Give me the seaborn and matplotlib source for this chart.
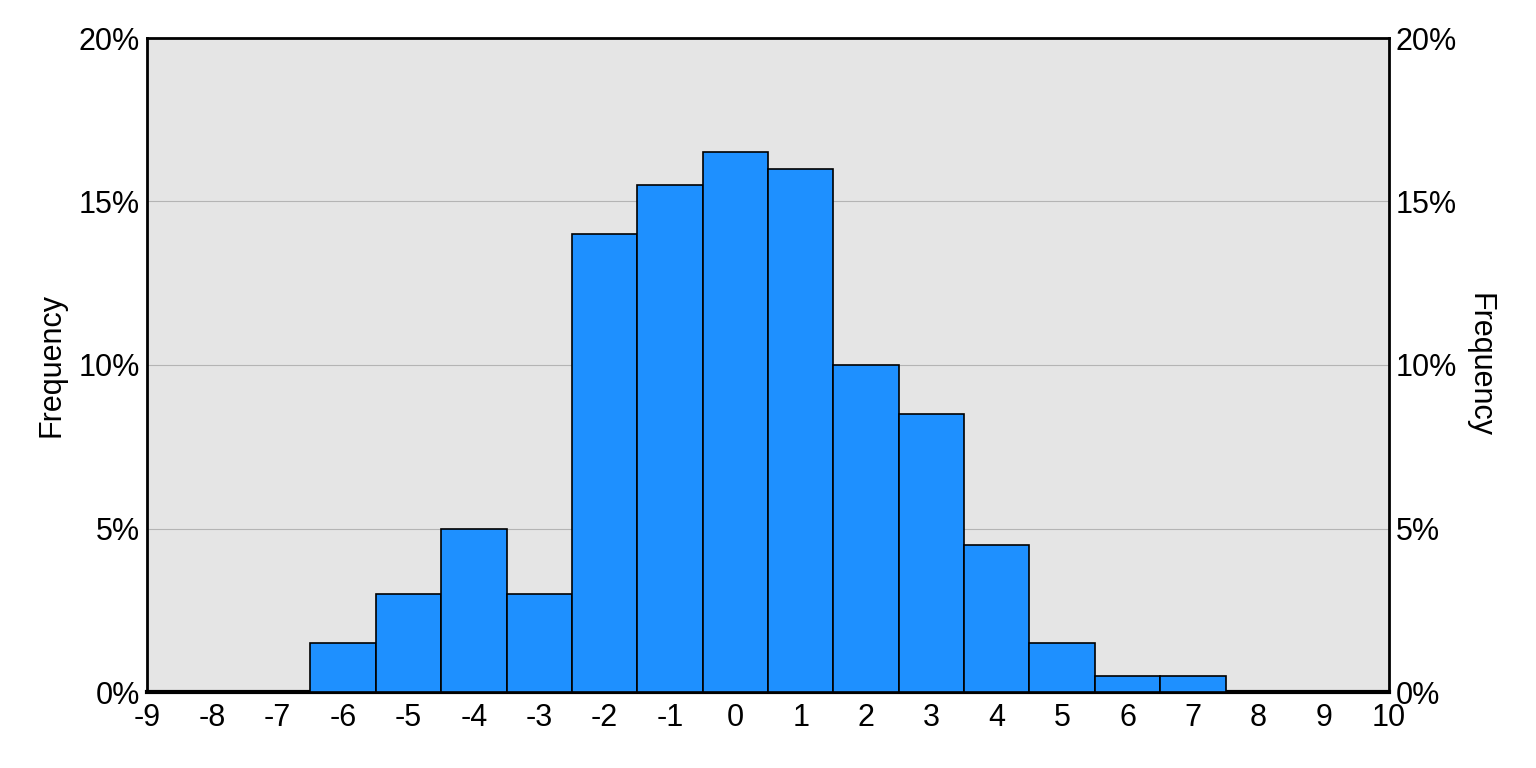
import seaborn as sns
import pandas as pd
import matplotlib.pyplot as plt

# Histograma de frecuencias (porcentaje por intervalo)
valores = [-6, -5, -4, -3, -2, -1, 0, 1, 2, 3, 4, 5, 6, 7]
porcentajes = [1.5, 3, 5, 3, 14, 15.5, 16.5, 16, 10, 8.5, 4.5, 1.5, 0.5, 0.5]
xticks = list(range(-9, 11))
yticks = [0, 5, 10, 15, 20]
ylabels = ["0%", "5%", "10%", "15%", "20%"]

df = pd.DataFrame({"valor": valores, "pct": porcentajes})

sns.set_style("white")
plt.rcParams["font.family"] = ["Liberation Sans", "DejaVu Sans"]
plt.rcParams["text.color"] = "black"
plt.rcParams["xtick.color"] = "black"
plt.rcParams["ytick.color"] = "black"
plt.rcParams["axes.labelcolor"] = "black"

fig = plt.figure(figsize=(15.36, 7.68), dpi=100)
ax = fig.add_axes([147 / 1536, 1 - 692 / 768, (1389 - 147) / 1536, (692 - 38) / 768])
ax.set_facecolor("#E5E5E5")

sns.histplot(data=df, x="valor", weights="pct", discrete=True, stat="count",
             color="#1E90FF", alpha=1, edgecolor="black", linewidth=1.2, ax=ax, zorder=3)

fs = 22
ax.set_xlim(-9, 10)
ax.set_ylim(0, 20)
ax.set_xticks(xticks)
ax.set_xticklabels([str(t) for t in xticks], fontsize=fs)
ax.set_yticks(yticks)
ax.set_yticklabels(ylabels, fontsize=fs)
ax.yaxis.grid(True, color="#B4B4B4", linewidth=0.8, zorder=0)
ax.set_axisbelow(True)
ax.tick_params(axis="x", length=0, pad=8)
ax.tick_params(axis="y", length=0, pad=5)
ax.set_xlabel("")
ax.set_ylabel("Frequency", fontsize=fs, labelpad=9)
for lado in ["left", "right", "top"]:
    ax.spines[lado].set_linewidth(2)
    ax.spines[lado].set_color("black")
ax.spines["bottom"].set_linewidth(3)
ax.spines["bottom"].set_color("black")

ax2 = ax.twinx()
ax2.set_ylim(0, 20)
ax2.set_yticks(yticks)
ax2.set_yticklabels(ylabels, fontsize=fs)
ax2.tick_params(length=0, pad=5)
ax2.set_ylabel("Frequency", fontsize=fs, rotation=270, labelpad=27)
for s in ax2.spines.values():
    s.set_visible(False)

plt.savefig("out.png", dpi=100)
